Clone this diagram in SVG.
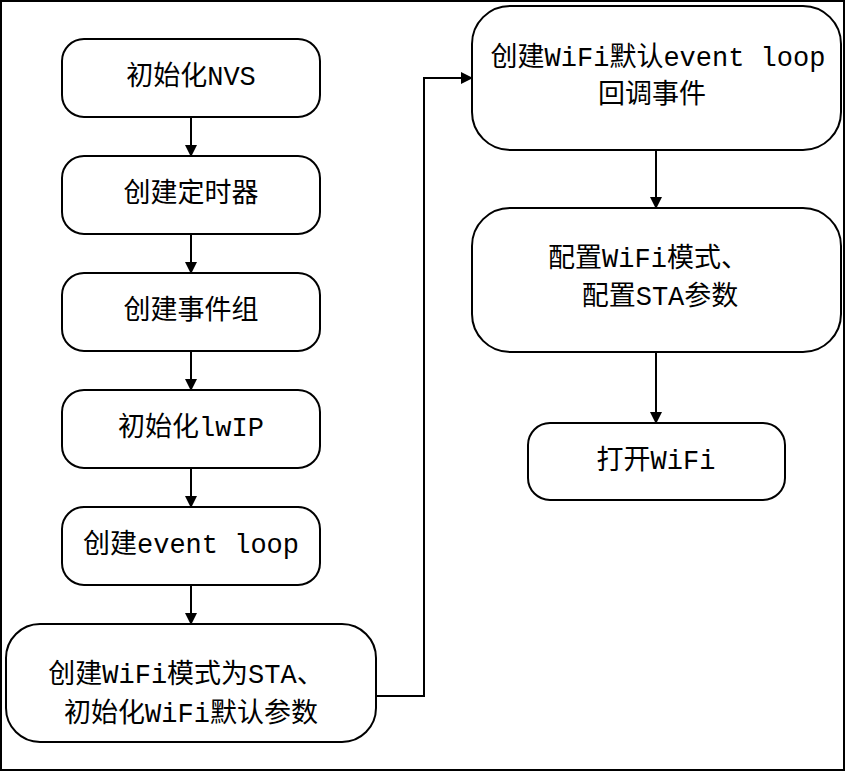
<svg xmlns="http://www.w3.org/2000/svg" width="845" height="771" viewBox="0 0 845 771">
<defs>
<marker id="a" markerWidth="12" markerHeight="12" refX="11" refY="6" orient="auto" markerUnits="userSpaceOnUse"><path d="M0,0 L12,6 L0,12 z" fill="#000"/></marker>
<style>
rect.n{fill:#fff;stroke:#000;stroke-width:2}
text{font-family:"Liberation Mono","Noto Sans CJK SC",monospace;font-size:27px;text-anchor:middle;dominant-baseline:central;fill:#000}
.c{stroke:#000;stroke-width:2;fill:none;marker-end:url(#a)}
</style>
</defs>
<rect x="1" y="1" width="843" height="769" fill="#fff" stroke="#000" stroke-width="2"/>
<g id="connectors">
<line class="c" x1="191" y1="117" x2="191" y2="156"/>
<line class="c" x1="191" y1="234" x2="191" y2="273"/>
<line class="c" x1="191" y1="351" x2="191" y2="390"/>
<line class="c" x1="191" y1="468" x2="191" y2="507"/>
<line class="c" x1="191" y1="585" x2="191" y2="624"/>
<polyline class="c" points="376,696 424,696 424,78 472,78"/>
<line class="c" x1="656" y1="150" x2="656" y2="208"/>
<line class="c" x1="656" y1="352" x2="656" y2="423"/>
</g>
<g id="n1"><rect class="n" x="62" y="39" width="258" height="78" rx="22"/><text x="191" y="78">初始化NVS</text></g>
<g id="n2"><rect class="n" x="62" y="156" width="258" height="78" rx="22"/><text x="191" y="195">创建定时器</text></g>
<g id="n3"><rect class="n" x="62" y="273" width="258" height="78" rx="22"/><text x="191" y="312">创建事件组</text></g>
<g id="n4"><rect class="n" x="62" y="390" width="258" height="78" rx="22"/><text x="191" y="429">初始化lwIP</text></g>
<g id="n5"><rect class="n" x="62" y="507" width="258" height="78" rx="22"/><text x="191" y="546">创建event loop</text></g>
<g id="n6"><rect class="n" x="6" y="624" width="370" height="118" rx="34"/><text x="186" y="676">创建WiFi模式为STA、</text><text x="191" y="715">初始化WiFi默认参数</text></g>
<g id="n7"><rect class="n" x="472" y="6" width="369" height="144" rx="38"/><text x="658" y="59">创建WiFi默认event loop</text><text x="598" y="96" style="text-anchor:start">回调事件</text></g>
<g id="n8"><rect class="n" x="472" y="208" width="369" height="144" rx="38"/><text x="648" y="260">配置WiFi模式、</text><text x="660" y="298">配置STA参数</text></g>
<g id="n9"><rect class="n" x="528" y="423" width="257" height="77" rx="22"/><text x="656" y="462">打开WiFi</text></g>
</svg>
